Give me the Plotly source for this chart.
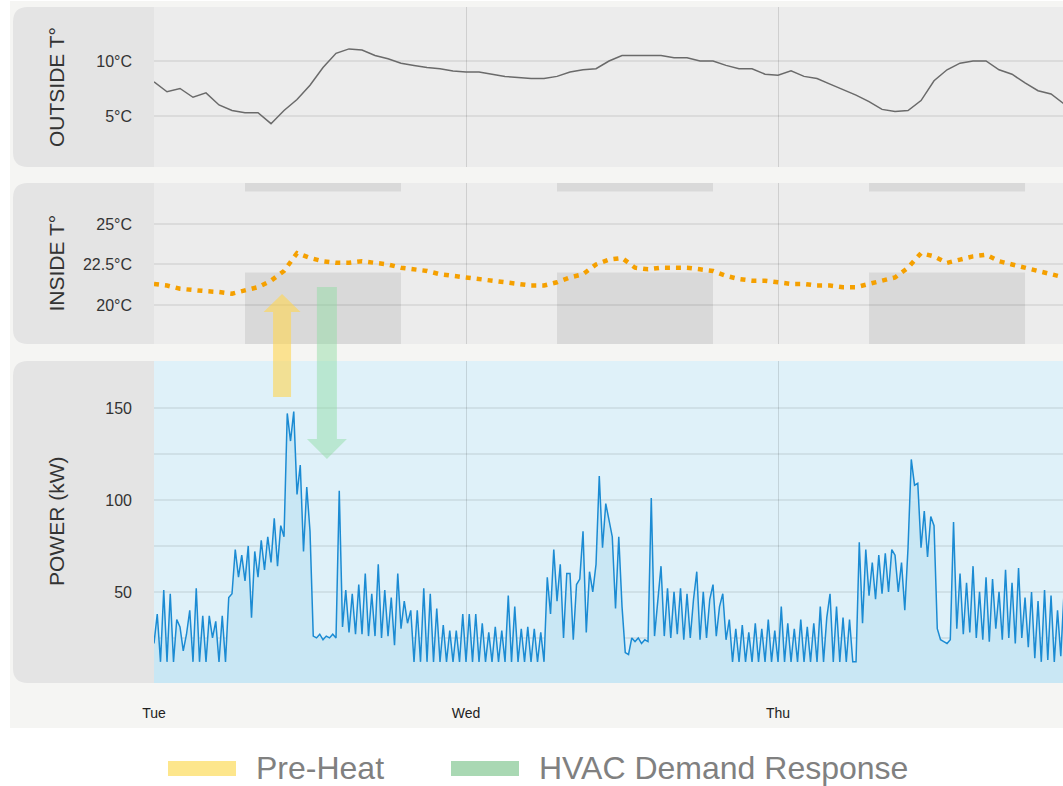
import plotly.graph_objects as go
from plotly.subplots import make_subplots

# ---- data -------------------------------------------------------------
day_labels = ["Tue", "Wed", "Thu"]
day_hours = [0, 24, 48]

# outside temperature, hourly from Tue 00:00 (°C)
outside_temp = [
    8.1, 7.2, 7.5, 6.7, 7.1, 6.0, 5.5, 5.3, 5.3, 4.3, 5.5, 6.5,
    7.8, 9.4, 10.7, 11.1, 11.0, 10.5, 10.2, 9.8, 9.6, 9.4, 9.3, 9.1,
    9.0, 9.0, 8.8, 8.6, 8.5, 8.4, 8.4, 8.6, 9.0, 9.2, 9.3, 10.0,
    10.5, 10.5, 10.5, 10.5, 10.3, 10.3, 10.0, 10.0, 9.6, 9.3, 9.3, 8.8,
    8.7, 9.1, 8.6, 8.4, 7.9, 7.4, 6.9, 6.3, 5.6, 5.4, 5.5, 6.4,
    8.2, 9.2, 9.8, 10.0, 10.0, 9.2, 8.8, 8.0, 7.3, 7.0, 6.1,
]

# inside temperature, hourly from Tue 00:00 (°C)
inside_temp = [
    21.3, 21.2, 21.0, 20.9, 20.85, 20.8, 20.7, 20.9, 21.1, 21.5, 22.1, 23.2,
    22.9, 22.7, 22.6, 22.6, 22.7, 22.6, 22.5, 22.3, 22.2, 22.1, 21.9, 21.8,
    21.7, 21.6, 21.5, 21.4, 21.3, 21.2, 21.2, 21.4, 21.7, 21.9, 22.5, 22.8,
    22.9, 22.3, 22.2, 22.3, 22.3, 22.3, 22.2, 22.1, 21.8, 21.6, 21.5, 21.5,
    21.4, 21.3, 21.3, 21.2, 21.2, 21.1, 21.1, 21.3, 21.5, 21.7, 22.3, 23.2,
    23.0, 22.6, 22.8, 23.0, 23.1, 22.7, 22.5, 22.3, 22.1, 21.9, 21.7,
]

# building power, every 15 min (kW)
power_tue = [
    22, 38, 12, 51,   12, 49, 12, 35,   31, 18, 27, 40,   12, 52, 12, 37,
    12, 37, 25, 34,   12, 37, 12, 47,   49, 73, 58, 70,   56, 75, 36, 72,
    58, 78, 62, 80,   66, 90, 64, 86,   80, 147, 132, 148, 103, 119, 72, 107,
    83, 26, 25, 27,   24, 26, 25, 27,   25, 105, 31, 51,  28, 49, 27, 54,
    27, 60, 26, 49,   26, 65, 25, 51,   26, 47, 21, 60,   30, 45, 33, 40,
    12, 40, 12, 52,   12, 49, 12, 41,   12, 32, 12, 29,   12, 29, 12, 38,
]
power_wed = [
    12, 38, 12, 38,   12, 33, 12, 28,   12, 31, 12, 29,   12, 48, 12, 42,
    12, 30, 12, 31,   12, 30, 12, 28,   12, 58, 38, 73,   45, 65, 25, 60,
    60, 24, 54, 57,   83, 28, 61, 50,   65, 113, 74, 98,  89, 80, 41, 80,
    42, 17, 16, 25,   23, 25, 22, 24,   23, 101, 26, 45,  64, 26, 52, 25,
    50, 27, 52, 24,   49, 25, 46, 61,   24, 50, 25, 46,   54, 26, 42, 49,
    24, 35, 12, 30,   12, 32, 12, 28,   12, 33, 12, 30,   12, 35, 12, 29,
]
power_thu = [
    12, 42, 12, 33,   12, 30, 12, 35,   12, 31, 12, 33,   12, 42, 12, 36,
    49, 12, 42, 12,   36, 12, 35, 12,   12, 77, 33, 73,   48, 66, 46, 70,
    49, 71, 50, 73,   70, 50, 66, 40,   74, 122, 108, 109, 74, 94, 69, 91,
    86, 30, 24, 23,   22, 24, 88, 30,   60, 27, 55, 28,   64, 25, 50, 24,
    58, 23, 57, 30,   50, 24, 62, 25,   55, 22, 63, 25,   47, 20, 50, 14,
    45, 12, 51, 13,   48, 12, 40, 15,   50,
]
power_kw = power_tue + power_wed + power_thu

# occupied hours (comfort band 22-27 °C)
occupied_start = [7, 31, 55]
occupied_end = [19, 43, 67]
comfort_low, comfort_high = 22, 27

temp_hours = list(range(len(outside_temp)))
power_hours = [i / 4 for i in range(len(power_kw))]

legend_labels = ["Pre-Heat", "HVAC Demand Response"]
legend_colors = ["#fde68c", "#a9d8b3"]

# ---- geometry helpers ---------------------------------------------------
W, H = 1063, 786
ML, MT, MB = 154, 7, 103
PW, PH = W - ML, H - MT - MB
x_range = [0, 69.92]


def px_x(px):
    return (px - ML) / PW


def px_y(py):
    return (H - MB - py) / PH


def hour_x(h):
    return (h - x_range[0]) / (x_range[1] - x_range[0])


def label_panel(top, bottom, r=15):
    x0, x1 = px_x(13), px_x(ML)
    yt, yb = px_y(top), px_y(bottom)
    rx, ry = r / PW, r / PH
    return (f"M{x1},{yt} L{x0 + rx},{yt} Q{x0},{yt} {x0},{yt - ry} "
            f"L{x0},{yb + ry} Q{x0},{yb} {x0 + rx},{yb} L{x1},{yb} Z")


def block_arrow(hour, tail, tip, shaft_w, head_w, head_len):
    cx = hour_x(hour)
    sw, hw = shaft_w / 2 / PW, head_w / 2 / PW
    base = tip + head_len if tail > tip else tip - head_len
    yt, yb, ytip = px_y(tail), px_y(base), px_y(tip)
    return (f"M{cx - sw},{yt} L{cx - sw},{yb} L{cx - hw},{yb} L{cx},{ytip} "
            f"L{cx + hw},{yb} L{cx + sw},{yb} L{cx + sw},{yt} Z")


panels = [(7, 167), (183, 344), (361, 683)]
panel_titles = ["OUTSIDE T°", "INSIDE T°", "POWER (kW)"]

# ---- figure -------------------------------------------------------------
fig = make_subplots(rows=3, cols=1, shared_xaxes=True)

fig.add_trace(go.Scatter(x=temp_hours, y=outside_temp, mode="lines",
                         line=dict(color="#6a6a6a", width=1.5)), row=1, col=1)
fig.add_trace(go.Scatter(x=temp_hours, y=inside_temp, mode="lines",
                         line=dict(color="#f5a000", width=4.5, dash="5px,6px")), row=2, col=1)
fig.add_trace(go.Scatter(x=power_hours, y=power_kw, mode="lines", fill="tozeroy",
                         fillcolor="#c9e7f4", line=dict(color="#1b8bd3", width=1.5)), row=3, col=1)

shapes = [
    dict(type="rect", xref="paper", yref="paper", x0=px_x(10), x1=1.0,
         y0=px_y(728), y1=px_y(1), fillcolor="#f5f5f3", line_width=0, layer="below"),
]
for (top, bottom), bg in zip(panels, ["#ececec", "#ececec", "#dff1f9"]):
    shapes.append(dict(type="path", xref="paper", yref="paper", path=label_panel(top, bottom),
                       fillcolor="#e4e4e4", line_width=0, layer="below"))
    shapes.append(dict(type="rect", xref="paper", yref="paper", x0=0, x1=1,
                       y0=px_y(bottom), y1=px_y(top), fillcolor=bg, line_width=0, layer="below"))

for s, e in zip(occupied_start, occupied_end):
    shapes.append(dict(type="rect", xref="x2", yref="y2", x0=s, x1=e, y0=0, y1=comfort_low,
                       fillcolor="#d9d9d9", line_width=0, layer="below"))
    shapes.append(dict(type="rect", xref="x2", yref="y2", x0=s, x1=e, y0=comfort_high, y1=40,
                       fillcolor="#d9d9d9", line_width=0, layer="below"))

# pre-heat and demand-response arrows
shapes.append(dict(type="path", xref="paper", yref="paper",
                   path=block_arrow(9.85, 397, 294, 18, 37, 18),
                   fillcolor="rgba(255,214,80,0.6)", line_width=0, layer="above"))
shapes.append(dict(type="path", xref="paper", yref="paper",
                   path=block_arrow(13.3, 287, 459, 20, 40, 20),
                   fillcolor="rgba(140,220,160,0.45)", line_width=0, layer="above"))

annotations = []
for (top, bottom), title in zip(panels, panel_titles):
    annotations.append(dict(text=title, textangle=-90, xref="paper", yref="paper",
                            x=px_x(56), y=px_y((top + bottom) / 2), showarrow=False,
                            xanchor="center", yanchor="middle",
                            font=dict(size=21, color="#333333")))

# legend
legend_x = [168, 451]
for lx, lab, col in zip(legend_x, legend_labels, legend_colors):
    shapes.append(dict(type="rect", xref="paper", yref="paper", x0=px_x(lx), x1=px_x(lx + 68),
                       y0=px_y(776), y1=px_y(761), fillcolor=col, line_width=0))
    annotations.append(dict(text=lab, xref="paper", yref="paper", x=px_x(lx + 86), y=px_y(768),
                            xanchor="left", yanchor="middle", showarrow=False,
                            font=dict(size=32, color="#808080")))

fig.update_layout(
    width=W, height=H,
    margin=dict(l=ML, r=0, t=MT, b=MB),
    paper_bgcolor="white", plot_bgcolor="rgba(0,0,0,0)",
    font=dict(family="Liberation Sans, Arial, sans-serif", color="#333333"),
    showlegend=False,
    shapes=shapes, annotations=annotations,
)

fig.update_xaxes(range=x_range, tickvals=day_hours, ticktext=day_labels, showgrid=True,
                 gridcolor="rgba(0,0,0,0.12)", gridwidth=1, zeroline=False, showline=False,
                 ticks="", showticklabels=False)
fig.update_xaxes(showticklabels=True, ticklabelstandoff=20, tickfont=dict(size=14, color="#222222"),
                 row=3, col=1)

ygrid = dict(gridcolor="rgba(0,0,0,0.07)", gridwidth=2, zeroline=False, showline=False,
             ticks="", ticklabelstandoff=21, tickfont=dict(size=16, color="#333333"))
fig.update_yaxes(domain=[px_y(167), px_y(7)], range=[0.36, 14.91],
                 tickvals=[5, 10], ticktext=["5°C", "10°C"], row=1, col=1, **ygrid)
fig.update_yaxes(domain=[px_y(344), px_y(183)], range=[17.59, 27.53],
                 tickvals=[20, 22.5, 25], ticktext=["20°C", "22.5°C", "25°C"], row=2, col=1, **ygrid)
fig.update_yaxes(domain=[px_y(683), px_y(361)], range=[0.5, 175.5],
                 tickvals=[25, 50, 75, 100, 125, 150], ticktext=["", "50", "", "100", "", "150"],
                 row=3, col=1, **ygrid)

# the page is photographed at 1063x786, so drop the default 8px body margin
fig.write_html("out.html", config={"displayModeBar": False},
               post_script="document.body.style.margin = '0';")
